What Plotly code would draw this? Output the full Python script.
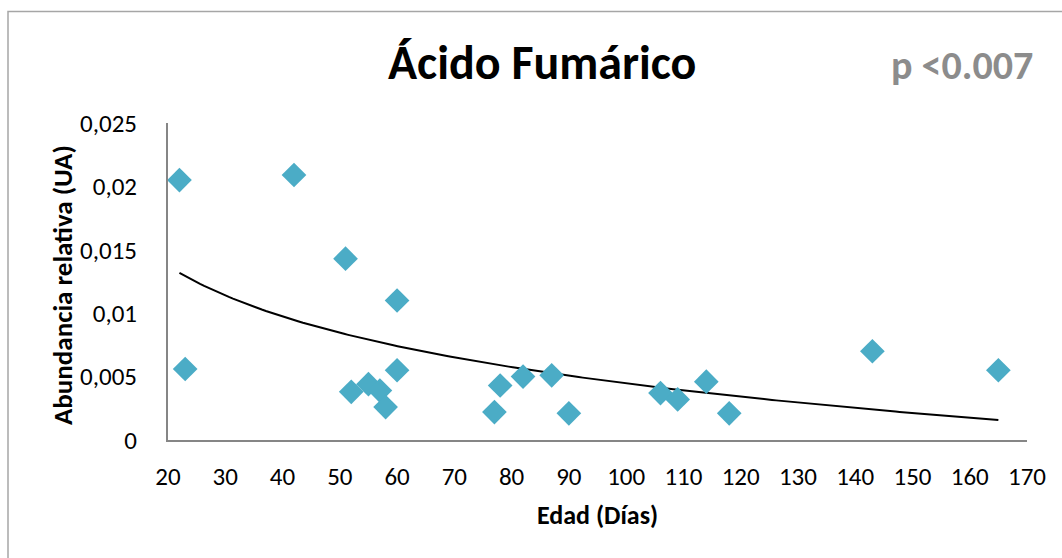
import numpy as np
import plotly.graph_objects as go

# Data
edad_dias = [22, 23, 42, 51, 52, 55, 57, 58, 60, 60, 77, 78, 82, 87, 90, 106, 109, 114, 118, 143, 165]
abundancia = [0.0205, 0.0056, 0.0209, 0.0143, 0.0038, 0.0044, 0.0039, 0.0026, 0.0110, 0.0055,
              0.0022, 0.0043, 0.0050, 0.0051, 0.0021, 0.0037, 0.0032, 0.0046, 0.0021, 0.0070, 0.0055]
x_ticks = list(range(20, 171, 10))
y_ticks = [0, 0.005, 0.01, 0.015, 0.02, 0.025]
y_tick_labels = ["0", "0,005", "0,01", "0,015", "0,02", "0,025"]
titulo = "Ácido Fumárico"
p_texto = "p <0.007"

# Logarithmic trendline (least squares on ln x)
b, a = np.polyfit(np.log(edad_dias), abundancia, 1)
x_fit = np.linspace(min(edad_dias), max(edad_dias), 200)
y_fit = a + b * np.log(x_fit)

W, H = 1062, 558
L, R, T, B = 168, 35, 123, 118
pw, ph = W - L - R, H - T - B

def px(xpix):
    return (xpix - L) / pw

def py(ypix):
    return (H - B - ypix) / ph

FONT = "Calibri, Carlito, Lato, sans-serif"

fig = go.Figure()
fig.add_trace(go.Scatter(x=x_fit, y=y_fit, mode="lines",
                         line=dict(color="black", width=2), hoverinfo="skip", showlegend=False))
fig.add_trace(go.Scatter(x=edad_dias, y=abundancia, mode="markers",
                         marker=dict(symbol="diamond", size=19, color="#4BACC6", line=dict(width=0)),
                         showlegend=False))

fig.update_layout(
    width=W, height=H,
    margin=dict(l=L, r=R, t=T, b=B),
    paper_bgcolor="white", plot_bgcolor="white",
    font=dict(family=FONT, color="black"),
    xaxis=dict(range=[20, 170], tickvals=x_ticks, showgrid=False, zeroline=False,
               showline=True, linecolor="#868686", linewidth=2, ticks="",
               tickfont=dict(size=25, color="black"), ticklabelstandoff=13),
    yaxis=dict(range=[0, 0.025], tickvals=y_ticks, ticktext=y_tick_labels, showgrid=False,
               zeroline=False, showline=True, linecolor="#868686", linewidth=2, ticks="",
               tickfont=dict(size=25, color="black"), ticklabelstandoff=24),
    shapes=[dict(type="rect", xref="paper", yref="paper",
                 x0=px(8), x1=px(1200), y0=py(800), y1=py(11.5),
                 line=dict(color="#A6A6A6", width=1.5), fillcolor="rgba(0,0,0,0)", layer="below")],
    annotations=[
        dict(text=titulo, xref="paper", yref="paper", x=px(542), y=py(62),
             showarrow=False, font=dict(size=48, color="black", family=FONT, weight="bold"),
             xanchor="center", yanchor="middle"),
        dict(text=p_texto, xref="paper", yref="paper", x=px(962), y=py(65),
             showarrow=False, font=dict(size=40, color="#8C8C8C", family=FONT, weight="bold"),
             xanchor="center", yanchor="middle"),
        dict(text="Edad (Días)", xref="paper", yref="paper", x=px(597), y=py(515),
             showarrow=False, font=dict(size=26, color="black", family=FONT, weight="bold"),
             xanchor="center", yanchor="middle"),
        dict(text="Abundancia relativa (UA)", xref="paper", yref="paper", x=px(62), y=py(285),
             showarrow=False, textangle=-90,
             font=dict(size=27, color="black", family=FONT, weight="bold"),
             xanchor="center", yanchor="middle"),
    ],
)

fig.write_html("out.html")
